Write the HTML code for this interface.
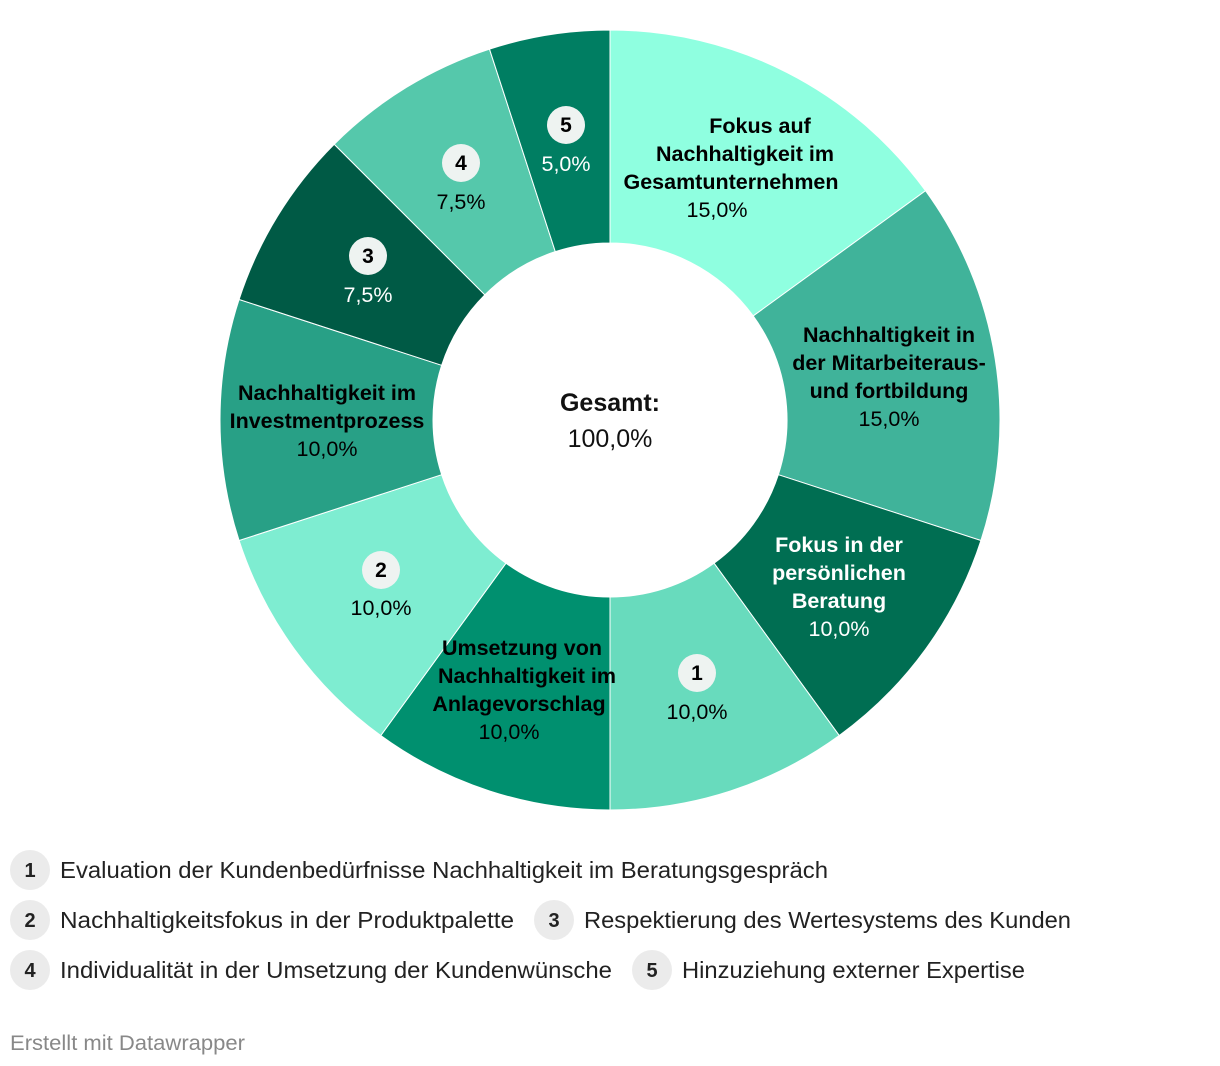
<!DOCTYPE html>
<html><head><meta charset="utf-8"><style>
body{margin:0;width:1220px;height:1066px;background:#fff;overflow:hidden;font-family:"Liberation Sans",sans-serif}
svg{position:absolute;left:0;top:0}
</style></head><body>
<svg id="s" width="1220" height="1066" xmlns="http://www.w3.org/2000/svg" font-family="Liberation Sans, sans-serif"></svg>
<script>
var s=document.getElementById('s');
var cx=610,cy=420,R=390,r=177;
var data=[[15,'#8fffe0'],[15,'#40b39a'],[10,'#006e52'],[10,'#68dbbd'],[10,'#00906f'],[10,'#7eedd1'],[10,'#28a086'],[7.5,'#005a45'],[7.5,'#55c8ab'],[5,'#007e62']];
var a=0,h='';
function pt(rad,ang){var t=ang/100*2*Math.PI;return [(cx+rad*Math.sin(t)).toFixed(2),(cy-rad*Math.cos(t)).toFixed(2)];}
data.forEach(function(d){var b=a+d[0];var p1=pt(R,a),p2=pt(R,b),p3=pt(r,b),p4=pt(r,a);var l=d[0]>50?1:0;
h+='<path d="M'+p1+' A'+R+','+R+' 0 '+l+' 1 '+p2+' L'+p3+' A'+r+','+r+' 0 '+l+' 0 '+p4+'Z" fill="'+d[1]+'" stroke="#fff" stroke-width="1"/>';a=b;});
function t(x,y,txt,c,b,sz){return '<text x="'+x+'" y="'+y+'" text-anchor="middle" font-size="'+(sz||21.5)+'" fill="'+c+'"'+(b?' font-weight="bold"':'')+'>'+txt+'</text>';}
function badge(x,y,n){return '<circle cx="'+x+'" cy="'+y+'" r="19" fill="#eef3f1"/>'+t(x,y+7,n,'#000',1,21);}
h+=t(760,133,'Fokus auf','#000',1)+t(745,161,'Nachhaltigkeit im','#000',1)+t(731,189,'Gesamtunternehmen','#000',1)+t(717,217,'15,0%','#000',0);
h+=t(889,342,'Nachhaltigkeit in','#000',1)+t(889,370,'der Mitarbeiteraus-','#000',1)+t(889,398,'und fortbildung','#000',1)+t(889,426,'15,0%','#000',0);
h+=t(839,552,'Fokus in der','#fff',1)+t(839,580,'persönlichen','#fff',1)+t(839,608,'Beratung','#fff',1)+t(839,636,'10,0%','#fff',0);
h+=badge(697,673,'1')+t(697,719,'10,0%','#000',0);
h+=t(522,655,'Umsetzung von','#000',1)+t(527,683,'Nachhaltigkeit im','#000',1)+t(519,711,'Anlagevorschlag','#000',1)+t(509,739,'10,0%','#000',0);
h+=badge(381,570,'2')+t(381,615,'10,0%','#000',0);
h+=t(327,400,'Nachhaltigkeit im','#000',1)+t(327,428,'Investmentprozess','#000',1)+t(327,456,'10,0%','#000',0);
h+=badge(368,256,'3')+t(368,302,'7,5%','#fff',0);
h+=badge(461,163,'4')+t(461,209,'7,5%','#000',0);
h+=badge(566,125,'5')+t(566,171,'5,0%','#fff',0);
h+=t(610,411,'Gesamt:','#111',1,25)+t(610,447,'100,0%','#111',0,25);
function lg(x,y,n,txt,w){return '<circle cx="'+x+'" cy="'+y+'" r="20" fill="#ebebeb"/>'+'<text x="'+x+'" y="'+(y+7)+'" text-anchor="middle" font-size="20" font-weight="bold" fill="#222">'+n+'</text><text x="'+(x+30)+'" y="'+(y+8)+'" font-size="23" fill="#222" textLength="'+w+'" lengthAdjust="spacingAndGlyphs">'+txt+'</text>';}
h+=lg(30,870,'1','Evaluation der Kundenbedürfnisse Nachhaltigkeit im Beratungsgespräch',768);
h+=lg(30,920,'2','Nachhaltigkeitsfokus in der Produktpalette',454);
h+=lg(554,920,'3','Respektierung des Wertesystems des Kunden',487);
h+=lg(30,970,'4','Individualität in der Umsetzung der Kundenwünsche',552);
h+=lg(652,970,'5','Hinzuziehung externer Expertise',343);
h+='<text x="10" y="1050" font-size="21" fill="#888" textLength="235" lengthAdjust="spacingAndGlyphs">Erstellt mit Datawrapper</text>';
s.innerHTML=h;
</script>
</body></html>
